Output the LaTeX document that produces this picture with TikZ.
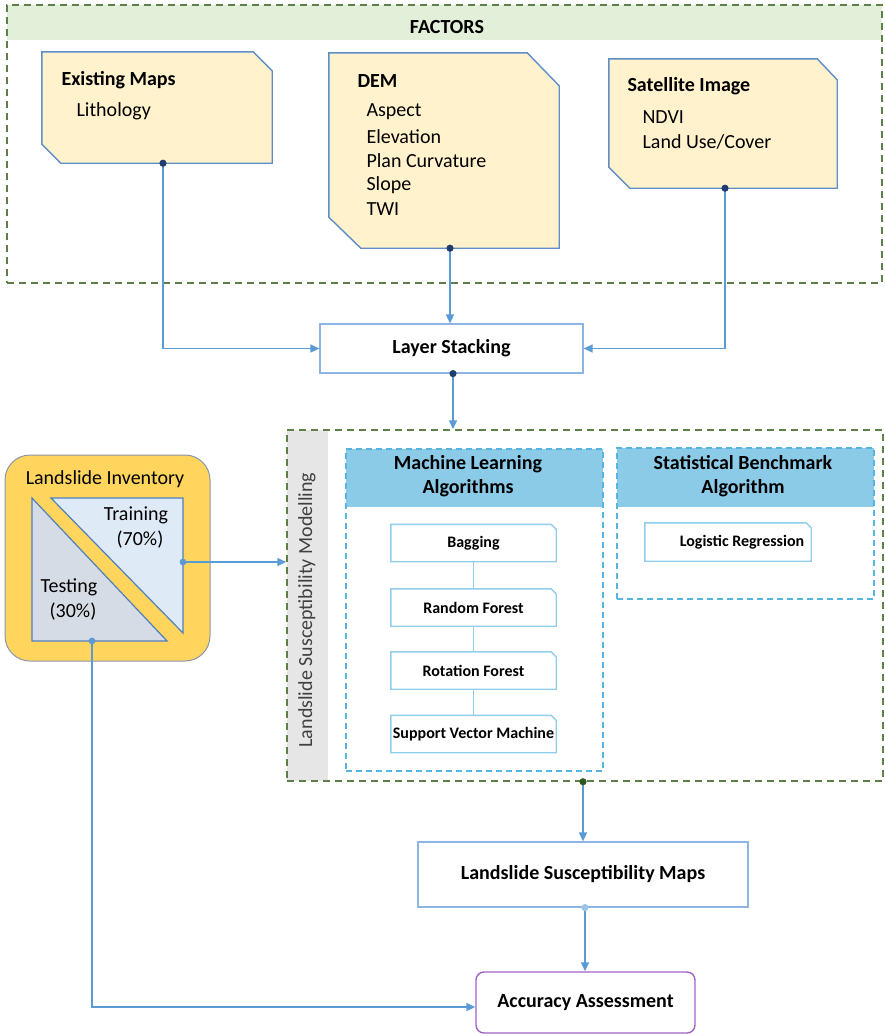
\documentclass[tikz,border=0pt]{standalone}
\usepackage{fontspec}
\setmainfont{Carlito}
\usetikzlibrary{arrows.meta,calc}
\definecolor{greendash}{HTML}{5E8048}
\definecolor{factgreen}{HTML}{E2EFD9}
\definecolor{fboxfill}{HTML}{FFF2CC}
\definecolor{fboxdraw}{HTML}{5F8DC6}
\definecolor{arrowc}{HTML}{5B9BD5}
\definecolor{navy}{HTML}{1F3E6E}
\definecolor{bluedash}{HTML}{55B5E0}
\definecolor{headblue}{HTML}{8CCBE8}
\definecolor{smallbox}{HTML}{8FCFEC}
\definecolor{plainbox}{HTML}{8EB4E3}
\definecolor{invfill}{HTML}{FFD55E}
\definecolor{invdraw}{HTML}{8A96A8}
\definecolor{tridraw}{HTML}{4F7FBD}
\definecolor{trainfill}{HTML}{DEEBF7}
\definecolor{testfill}{HTML}{D6DCE5}
\definecolor{lsmgray}{HTML}{E6E6E6}
\definecolor{accdraw}{HTML}{A064C8}
\definecolor{darkgreen}{HTML}{2F5A1E}
\definecolor{lightdot}{HTML}{9DC3E6}
\newcommand{\fsz}[1]{\fontsize{#1}{#1}\selectfont}
\begin{document}
\begin{tikzpicture}[x=1pt,y=-1pt,
  fbox/.style={draw=fboxdraw,fill=fboxfill,line width=1.4pt},
  box/.style={inner sep=0pt},
  arr/.style={draw=arrowc,line width=1.5pt,-{Triangle[length=9pt,width=8pt]}},
  ln/.style={draw=arrowc,line width=1.5pt},
  gdash/.style={draw=greendash,line width=1.5pt,dash pattern=on 7pt off 5pt},
  bdash/.style={draw=bluedash,line width=1.5pt,dash pattern=on 6pt off 4pt},
  ftitle/.style={anchor=west,font=\bfseries\fsz{20}},
  fitem/.style={anchor=west,font=\fsz{20}},
  sbox/.style={draw=smallbox,line width=1.4pt,fill=white},
  stext/.style={font=\bfseries\fsz{16}},
  btext/.style={font=\bfseries\fsz{20}},
]
\useasboundingbox (0,0) rectangle (885,1034);

% ---------- FACTORS container ----------
\fill[factgreen] (7,5) rectangle (882,40);
\node[box,gdash,minimum width=875pt,minimum height=278pt] (factors) at (444.5,144) {};
\node[font=\bfseries\fsz{20}] (factorst) at (447,27) {FACTORS};

% Existing Maps
\node[box,minimum width=230pt,minimum height=111pt] (em) at (157,107.5) {};
\draw[fbox] (em.north west) -- ([xshift=-19pt]em.north east) -- ([yshift=-19pt]em.north east)
  -- (em.south east) -- ([xshift=19pt]em.south west) -- ([yshift=19pt]em.south west) -- cycle;
\node[ftitle] (emt) at (58,80) {Existing Maps};
\node[fitem] (em1) at (73,111) {Lithology};

% DEM
\node[box,minimum width=230pt,minimum height=195pt] (dem) at (444,150.5) {};
\draw[fbox] (dem.north west) -- ([xshift=-32pt]dem.north east) -- ([yshift=-33pt]dem.north east)
  -- (dem.south east) -- ([xshift=32pt]dem.south west) -- ([yshift=31pt]dem.south west) -- cycle;
\node[ftitle] (demt) at (354,81) {DEM};
\node[fitem] (dem1) at (363,112) {Aspect};
\node[fitem] (dem2) at (363,137) {Elevation};
\node[fitem] (dem3) at (363,161) {Plan Curvature};
\node[fitem] (dem4) at (363,185) {Slope};
\node[fitem] (dem5) at (363,209) {TWI};

% Satellite Image
\node[box,minimum width=228pt,minimum height=129pt] (sat) at (723,123.5) {};
\draw[fbox] (sat.north west) -- ([xshift=-20pt]sat.north east) -- ([yshift=-21pt]sat.north east)
  -- (sat.south east) -- ([xshift=21pt]sat.south west) -- ([yshift=21pt]sat.south west) -- cycle;
\node[ftitle] (satt) at (624,86) {Satellite Image};
\node[fitem] (sat1) at (639,117) {NDVI};
\node[fitem] (sat2) at (639,142) {Land Use/Cover};

% ---------- Layer Stacking ----------
\node[box,draw=plainbox,line width=1.2pt,fill=white,minimum width=263pt,minimum height=49pt,btext] (ls) at (451.5,348.5) {Layer Stacking};

\coordinate (emdot) at ([xshift=6pt]em.south);
\coordinate (demdot) at ([xshift=6pt]dem.south);
\coordinate (satdot) at ([xshift=2pt]sat.south);
\coordinate (lsdot) at ([xshift=1.5pt]ls.south);

\draw[arr] (emdot) |- (ls.west);
\draw[arr] (demdot) -- (demdot |- ls.north);
\draw[arr] (satdot) |- (ls.east);

% ---------- Landslide Susceptibility Modelling container ----------
\fill[lsmgray] (287,430) rectangle (328,781);
\node[box,gdash,minimum width=596pt,minimum height=351pt] (lsm) at (585,605.5) {};
\node[rotate=90,font=\fsz{20},text=black!75] (lsmt) at (307,610) {Landslide Susceptibility Modelling};
\draw[arr] (lsdot) -- (lsdot |- lsm.north);

% Machine Learning group
\fill[headblue] (346,449) rectangle (603,507);
\node[box,bdash,minimum width=257pt,minimum height=322pt] (ml) at (474.5,610) {};
\node[align=center,font=\bfseries\fsz{20},inner sep=0pt] (mlt) at (468,476) {Machine Learning\\[4pt]Algorithms};

% Statistical group
\fill[headblue] (617,448) rectangle (874,507);
\node[box,bdash,minimum width=257pt,minimum height=151pt] (st) at (745.5,523.5) {};
\node[align=center,font=\bfseries\fsz{20},inner sep=0pt] (stt) at (743,476) {Statistical Benchmark\\[4pt]Algorithm};

% small boxes
\foreach \n/\cy in {bag/543,rf/607.5,rot/670.5,svm/734}{
  \node[box,minimum width=165pt,minimum height=37pt] (\n) at (473.5,\cy) {};
}
\draw[ln,line width=1pt,draw=smallbox] (bag.south) -- (rf.north);
\draw[ln,line width=1pt,draw=smallbox] (rf.south) -- (rot.north);
\draw[ln,line width=1pt,draw=smallbox] (rot.south) -- (svm.north);
\foreach \n/\t in {bag/Bagging,rf/Random Forest,rot/Rotation Forest,svm/Support Vector Machine}{
  \draw[sbox] (\n.north west) -- ([xshift=-5pt]\n.north east) -- ([yshift=-5pt]\n.north east) -- (\n.south east) -- (\n.south west) -- cycle;
  \node[stext] (\n t) at (\n.center) {\t};
}
\node[box,minimum width=166pt,minimum height=38pt] (lr) at (728,542) {};
\draw[sbox] (lr.north west) -- ([xshift=-5pt]lr.north east) -- ([yshift=-5pt]lr.north east) -- (lr.south east) -- (lr.south west) -- cycle;
\node[stext] (lrt) at (742,542) {Logistic Regression};

% ---------- Landslide Inventory ----------
\node[box,draw=invdraw,fill=invfill,line width=1pt,rounded corners=25pt,minimum width=205pt,minimum height=206pt] (inv) at (107.5,558) {};
\node[font=\fsz{20}] (invt) at (105,479) {Landslide Inventory};
\draw[draw=tridraw,line width=1.2pt,fill=trainfill] (51,498) -- (183,498) -- (183,633) -- cycle;
\draw[draw=tridraw,line width=1.2pt,fill=testfill] (32,498) -- (32,641) -- (167,641) -- cycle;
\node[font=\fsz{20},align=center,inner sep=0pt] (trt) at (136,527) {Training\\[5pt]\hspace*{8pt}(70\%)};
\node[font=\fsz{20},align=center,inner sep=0pt] (tet) at (69,599) {Testing\\[5pt]\hspace*{8pt}(30\%)};
\coordinate (trdot) at (183,562);
\coordinate (tedot) at (92,641);
\draw[arr] (trdot) -- (trdot -| lsm.west);

% ---------- bottom ----------
\node[box,draw=plainbox,line width=1.2pt,fill=white,minimum width=330pt,minimum height=65pt,btext] (lsmap) at (583,874.5) {Landslide Susceptibility Maps};
\node[box,draw=accdraw,line width=1.4pt,fill=white,rounded corners=8pt,minimum width=219pt,minimum height=61pt,btext] (acc) at (585.5,1002.5) {Accuracy Assessment};
\coordinate (lsmdot) at ([xshift=-2pt]lsm.south);
\coordinate (mapdot) at ([xshift=2pt]lsmap.south);
\draw[arr] (lsmdot) -- (lsmdot |- lsmap.north);
\draw[arr] (mapdot) -- (mapdot |- acc.north);
\draw[arr] (tedot) |- ([yshift=-4.5pt]acc.west);

% dots
\fill[navy] (emdot) circle (3.6pt);
\fill[navy] (demdot) circle (3.6pt);
\fill[navy] (satdot) circle (3.6pt);
\fill[navy] (lsdot) circle (3.6pt);
\fill[arrowc] (trdot) circle (3.4pt);
\fill[arrowc] (tedot) circle (3.4pt);
\fill[darkgreen] (lsmdot) circle (3.6pt);
\fill[lightdot] (mapdot) circle (3.6pt);
\end{tikzpicture}
\end{document}
